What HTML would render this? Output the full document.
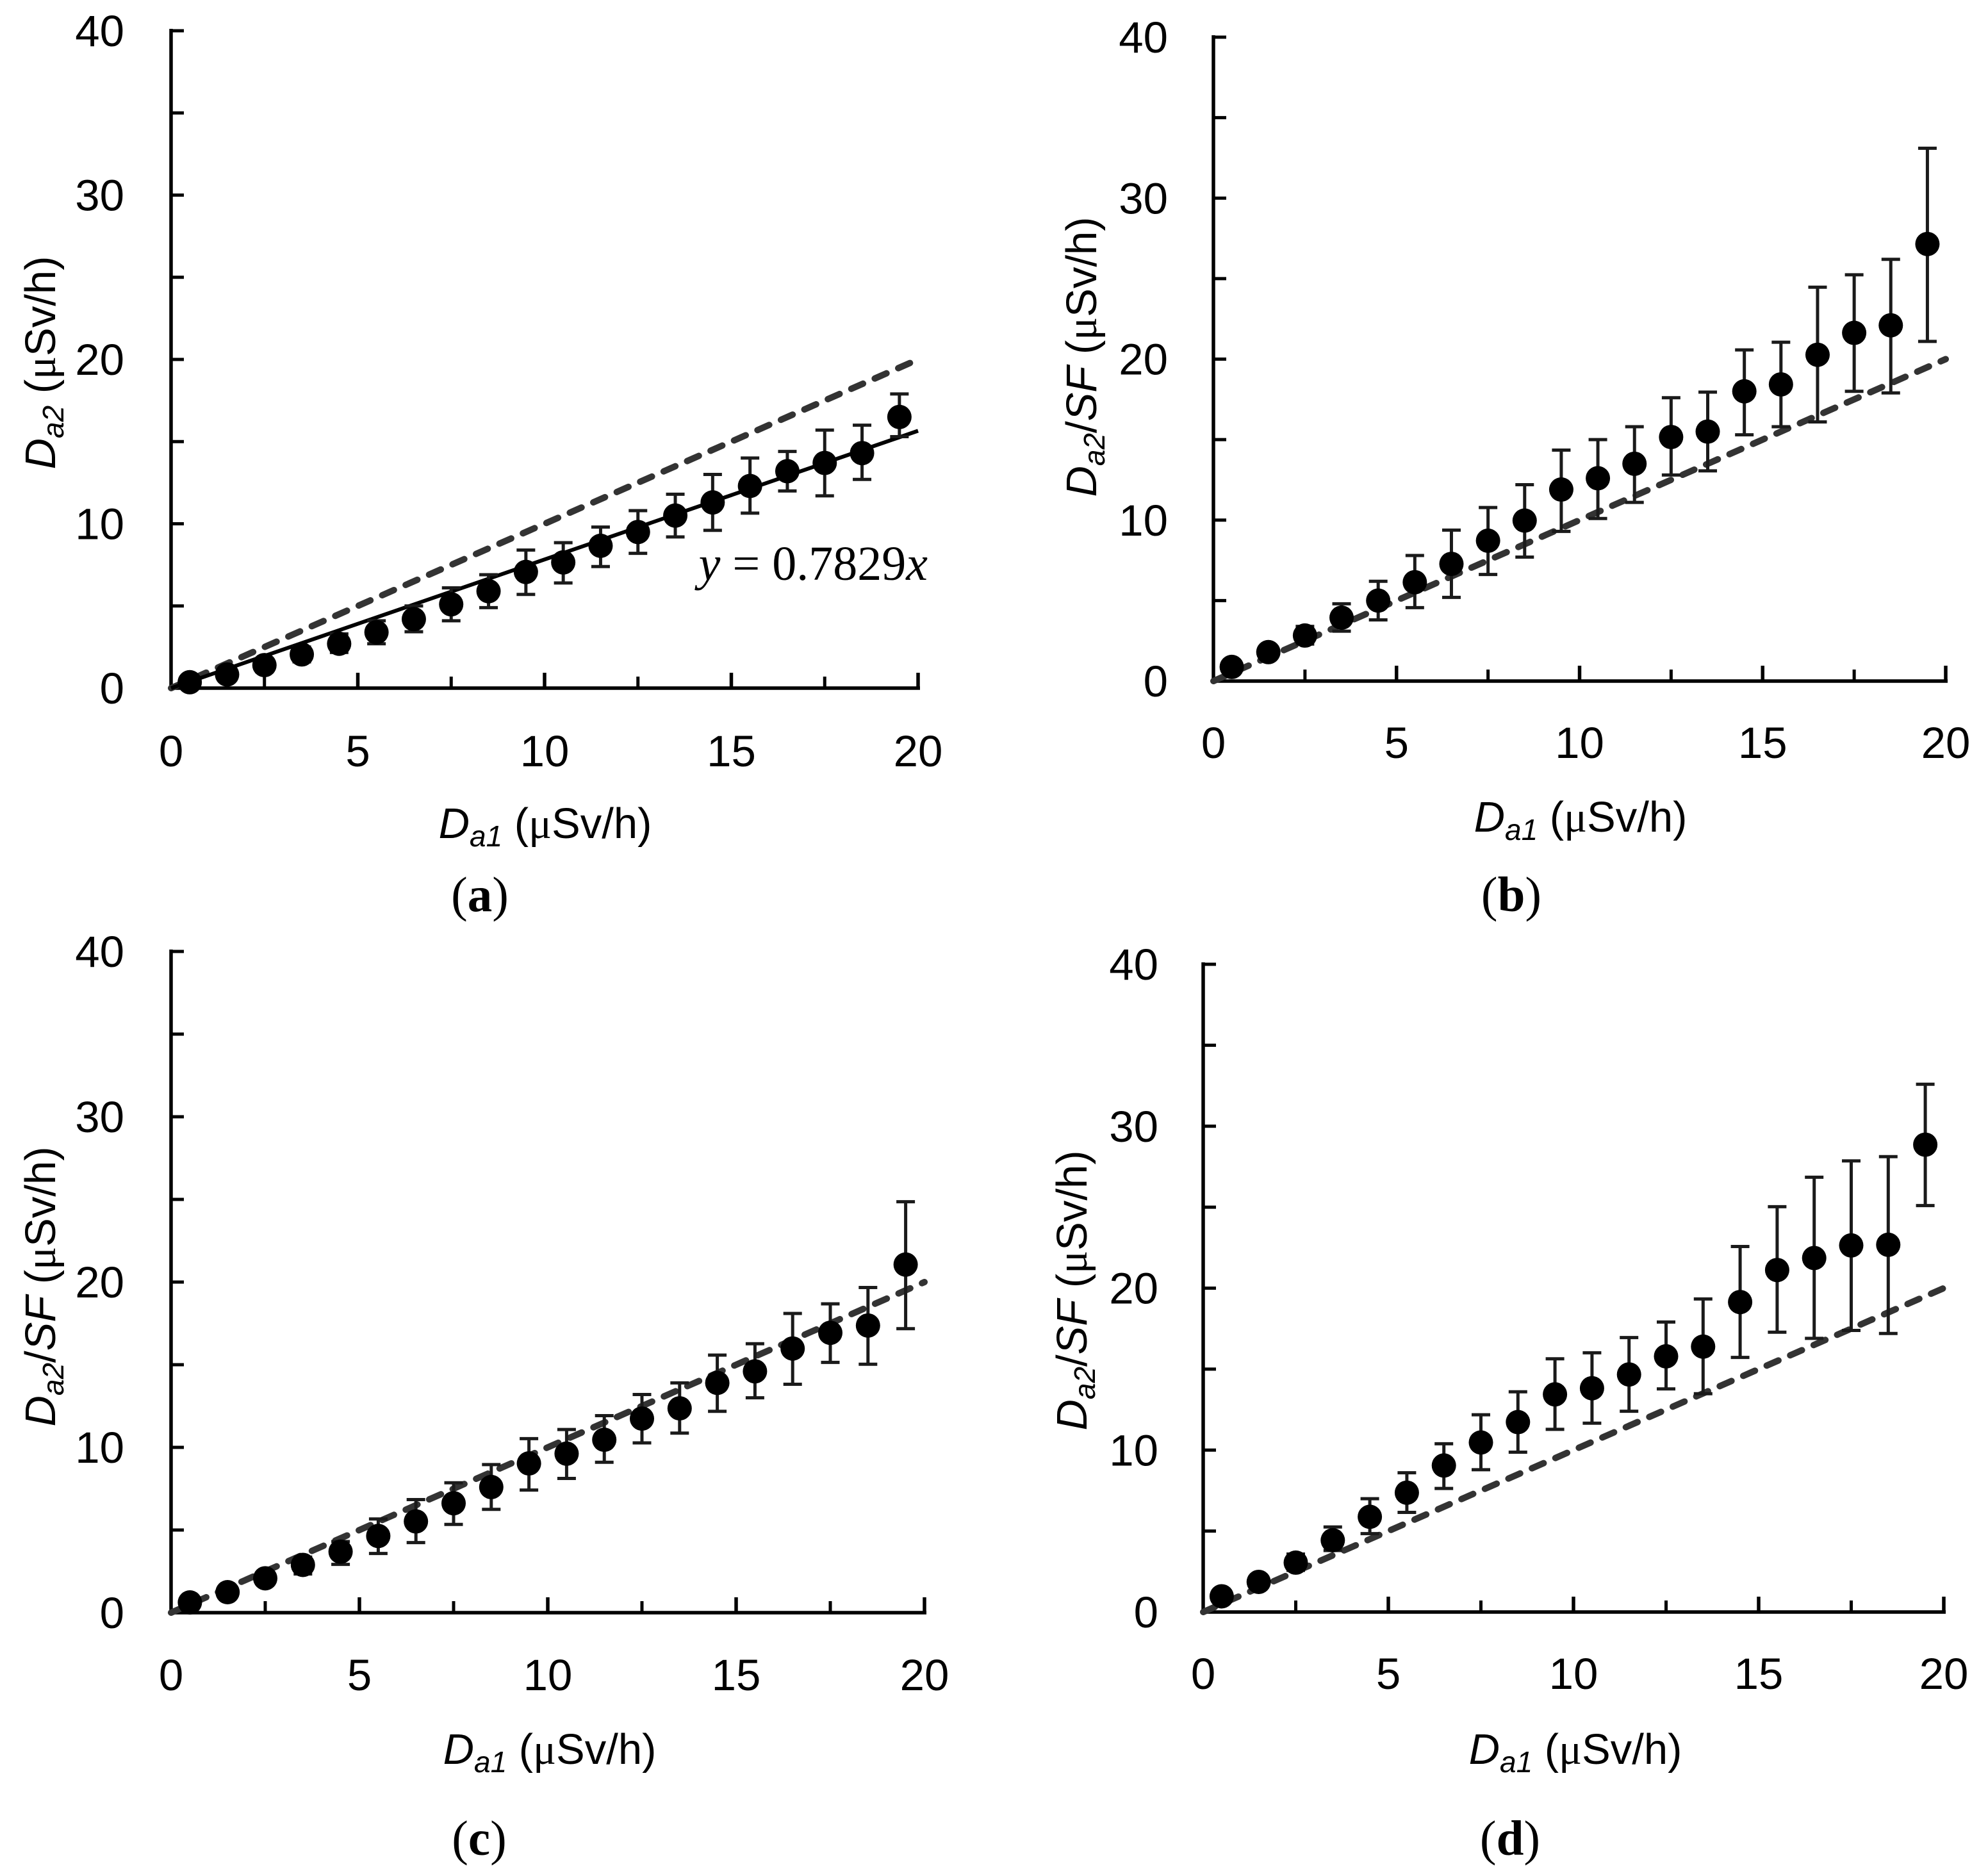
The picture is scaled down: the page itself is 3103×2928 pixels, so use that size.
<!DOCTYPE html>
<html lang="en">
<head>
<meta charset="utf-8">
<title>Da2 versus Da1 scatter panels</title>
<style>
html,body{margin:0;padding:0;background:#fff}
svg{display:block}
text{fill:#000}
.sans{font-family:"Liberation Sans",sans-serif}
.serif{font-family:"Liberation Serif",serif}
</style>
</head>
<body>
<svg id="figure" xmlns="http://www.w3.org/2000/svg" width="3103" height="2928" viewBox="0 0 3103 2928"></svg>
<script>
const xCategories = [0.5,1.5,2.5,3.5,4.5,5.5,6.5,7.5,8.5,9.5,10.5,11.5,12.5,13.5,14.5,15.5,16.5,17.5,18.5,19.5];
const xMinorTicks = [2.5,7.5,12.5,17.5];
const xMajorTicks = [5,10,15,20];
const yTicks = [5,10,15,20,25,30,35,40];
const xTickLabels = [0,5,10,15,20];
const yTickLabels = [0,10,20,30,40];
const referenceLineValues = [0,20];
const fitSlope = 0.7829;
const fitEnd = 20;

const meansA = [0.36,0.83,1.4,2.05,2.7,3.4,4.2,5.1,5.9,7.07,7.65,8.66,9.5,10.5,11.3,12.3,13.2,13.7,14.3,16.5];
const upperA = [0.5,1.1,1.8,2.5,3.3,4.1,5.0,6.1,6.9,8.4,8.85,9.8,10.8,11.8,13.0,14.0,14.4,15.7,16.0,17.9];
const lowerA = [0.2,0.6,1.0,1.6,2.17,2.7,3.43,4.1,4.9,5.7,6.4,7.4,8.2,9.2,9.6,10.65,12.0,11.7,12.7,15.3];

const meansB = [0.88,1.8,2.83,3.94,5.0,6.14,7.28,8.72,9.97,11.9,12.6,13.5,15.16,15.5,18.0,18.43,20.27,21.63,22.1,27.15];
const upperB = [1.1,2.1,3.4,4.8,6.2,7.8,9.38,10.78,12.2,14.35,15.0,15.8,17.6,17.95,20.57,21.05,24.47,25.24,26.2,33.1];
const lowerB = [0.7,1.5,2.3,3.1,3.8,4.56,5.2,6.62,7.7,9.3,10.1,11.1,12.8,13.06,15.3,15.8,16.1,18.0,17.9,21.1];

const meansC = [0.62,1.24,2.08,2.89,3.69,4.64,5.52,6.62,7.6,9.03,9.62,10.46,11.74,12.36,13.9,14.6,15.98,16.93,17.37,21.06];
const upperC = [0.8,1.5,2.4,3.36,4.3,5.67,6.84,7.86,8.96,10.53,11.08,11.92,13.2,13.9,15.58,16.27,18.1,18.68,19.67,24.86];
const lowerC = [0.4,1.0,1.7,2.34,2.92,3.58,4.24,5.34,6.25,7.42,8.12,9.1,10.27,10.86,12.18,13.0,13.82,15.14,15.03,17.18];

const meansD = [0.97,1.86,3.05,4.43,5.88,7.37,9.05,10.47,11.73,13.44,13.82,14.67,15.79,16.39,19.14,21.12,21.86,22.64,22.68,28.86];
const upperD = [1.2,2.2,3.58,5.25,7.0,8.6,10.39,12.18,13.6,15.64,16.01,16.95,17.91,19.33,22.57,25.03,26.85,27.86,28.12,32.59];
const lowerD = [0.7,1.5,2.57,3.8,4.84,6.15,7.63,8.79,9.87,11.28,11.66,12.4,13.78,13.48,15.72,17.28,16.9,17.39,17.2,25.1];

const NS = 'http://www.w3.org/2000/svg';
const root = document.getElementById('figure');

function make(tag, parent, attrs) {
  const el = document.createElementNS(NS, tag);
  for (const k in attrs) el.setAttribute(k, attrs[k]);
  parent.appendChild(el);
  return el;
}

function addSpan(parent, content, style) {
  const s = make('tspan', parent, style || {});
  s.textContent = content;
  return s;
}

function writeUnit(textEl, prefix, baselineStyle) {
  const open = addSpan(textEl, prefix + ' (', baselineStyle);
  
  
  const mu = addSpan(textEl, 'μ', {'font-family':'"Liberation Serif",serif'});
  
  
  const rest = addSpan(textEl, 'Sv/h)');
  
  
}

function writeDa(textEl, sub) {
  const d = addSpan(textEl, 'D', {'font-style':'italic'});
  
  
  const a = addSpan(textEl, sub, {'font-style':'italic','font-size':'46','dy':'13'});
  
  
}

function drawPanel(p) {
  const g = make('g', root, {});
  
  

  const sx = v => p.x0 + (v / 20) * (p.x1 - p.x0);
  const sy = v => p.y0 - (v / 40) * (p.y0 - p.y40);

  const yAxis = make('line', g, {x1:sx(0), y1:sy(0)+3, x2:sx(0), y2:sy(40)-3, stroke:'#000', 'stroke-width':5.5});
  
  

  const xAxis = make('line', g, {x1:sx(0), y1:sy(0), x2:sx(20)+3, y2:sy(0), stroke:'#000', 'stroke-width':5.5});
  
  

  yTicks.forEach(v => {
    const t = make('line', g, {x1:sx(0), y1:sy(v), x2:sx(0)+20, y2:sy(v), stroke:'#000', 'stroke-width':5});
    
    
  });
  xMinorTicks.forEach(v => {
    const t = make('line', g, {x1:sx(v), y1:sy(0), x2:sx(v), y2:sy(0)-18, stroke:'#000', 'stroke-width':5});
    
    
  });
  xMajorTicks.forEach(v => {
    const t = make('line', g, {x1:sx(v), y1:sy(0), x2:sx(v), y2:sy(0)-24, stroke:'#000', 'stroke-width':5.5});
    
    
  });

  yTickLabels.forEach(v => {
    const t = make('text', g, {x:p.yLabelRight+1, y:sy(v)+24, 'text-anchor':'end', 'font-size':69, class:'sans'});
    t.textContent = v;
    
    
  });
  xTickLabels.forEach(v => {
    const t = make('text', g, {x:sx(v), y:p.xLabelBase+1, 'text-anchor':'middle', 'font-size':69, class:'sans'});
    t.textContent = v;
    
    
  });

  const xTitle = make('text', g, {x:p.xTitleX, y:p.xTitleY, 'text-anchor':'middle', 'font-size':67, class:'sans'});
  
  
  writeDa(xTitle, 'a1');
  writeUnit(xTitle, '', {dy:'-13'});

  const yTitle = make('text', g, {x:p.yTitleX, y:p.yTitleY, 'text-anchor':'middle', 'font-size':67, class:'sans', transform:'rotate(-90 ' + p.yTitleX + ' ' + p.yTitleY + ')'});
  
  
  writeDa(yTitle, 'a2');
  if (p.sf) {
    const slash = addSpan(yTitle, '/', {dy:'-13'});
    
    
    const sf = addSpan(yTitle, 'SF', {'font-style':'italic'});
    
    
    writeUnit(yTitle, '', {});
  } else {
    writeUnit(yTitle, '', {dy:'-13'});
  }

  const refLine = make('line', g, {
    x1:sx(referenceLineValues[0]), y1:sy(referenceLineValues[0]),
    x2:sx(referenceLineValues[1]), y2:sy(referenceLineValues[1]),
    stroke:'#333', 'stroke-width':10, 'stroke-dasharray':'20 20', 'stroke-linecap':'round'
  });
  
  

  if (p.fit) {
    const fit = make('line', g, {x1:sx(0), y1:sy(0), x2:sx(fitEnd), y2:sy(fitEnd * fitSlope), stroke:'#000', 'stroke-width':6});
    
    
    const eq = make('text', g, {x:1448, y:905, 'text-anchor':'end', 'font-size':76, class:'serif'});
    
    
    const ey = addSpan(eq, 'y', {'font-style':'italic'});
    
    
    const en = addSpan(eq, ' = 0.7829');
    
    
    const ex = addSpan(eq, 'x', {'font-style':'italic'});
    
    
  }

  xCategories.forEach((c, i) => {
    const cx = sx(c), hi = sy(p.upper[i]), lo = sy(p.lower[i]);
    const stem = make('line', g, {x1:cx, y1:hi, x2:cx, y2:lo, stroke:'#1a1a1a', 'stroke-width':5});
    
    
    const capTop = make('line', g, {x1:cx-14.5, y1:hi, x2:cx+14.5, y2:hi, stroke:'#1a1a1a', 'stroke-width':5});
    
    
    const capBottom = make('line', g, {x1:cx-14.5, y1:lo, x2:cx+14.5, y2:lo, stroke:'#1a1a1a', 'stroke-width':5});
    
    
  });
  xCategories.forEach((c, i) => {
    const pt = make('circle', g, {cx:sx(c), cy:sy(p.means[i]), r:19, fill:'#000'});
    
    
  });

  const cap = make('text', g, {x:p.capX, y:p.capY, 'text-anchor':'middle', 'font-size':77, class:'serif'});
  
  
  const cap1 = addSpan(cap, '(');
  
  
  const cap2 = addSpan(cap, p.id, {'font-weight':'bold'});
  
  
  const cap3 = addSpan(cap, ')');
  
  
}

drawPanel({id:'a', x0:267, x1:1433, y0:1074, y40:48, yLabelRight:193, xLabelBase:1195, xTitleX:851, xTitleY:1308, yTitleX:86, yTitleY:566, capX:749, capY:1422, sf:false, fit:true, means:meansA, upper:upperA, lower:lowerA});
drawPanel({id:'b', x0:1894, x1:3037, y0:1063, y40:58, yLabelRight:1822, xLabelBase:1182, xTitleX:2467, xTitleY:1298, yTitleX:1711, yTitleY:557, capX:2359, capY:1422, sf:true, fit:false, means:meansB, upper:upperB, lower:lowerB});
drawPanel({id:'c', x0:267, x1:1443, y0:2517, y40:1485, yLabelRight:193, xLabelBase:2637, xTitleX:858, xTitleY:2753, yTitleX:86, yTitleY:2008, capX:748, capY:2895, sf:true, fit:false, means:meansC, upper:upperC, lower:lowerC});
drawPanel({id:'d', x0:1878, x1:3034, y0:2516, y40:1505, yLabelRight:1807, xLabelBase:2635, xTitleX:2459, xTitleY:2753, yTitleX:1696, yTitleY:2014, capX:2357, capY:2895, sf:true, fit:false, means:meansD, upper:upperD, lower:lowerD});
</script>
</body>
</html>
